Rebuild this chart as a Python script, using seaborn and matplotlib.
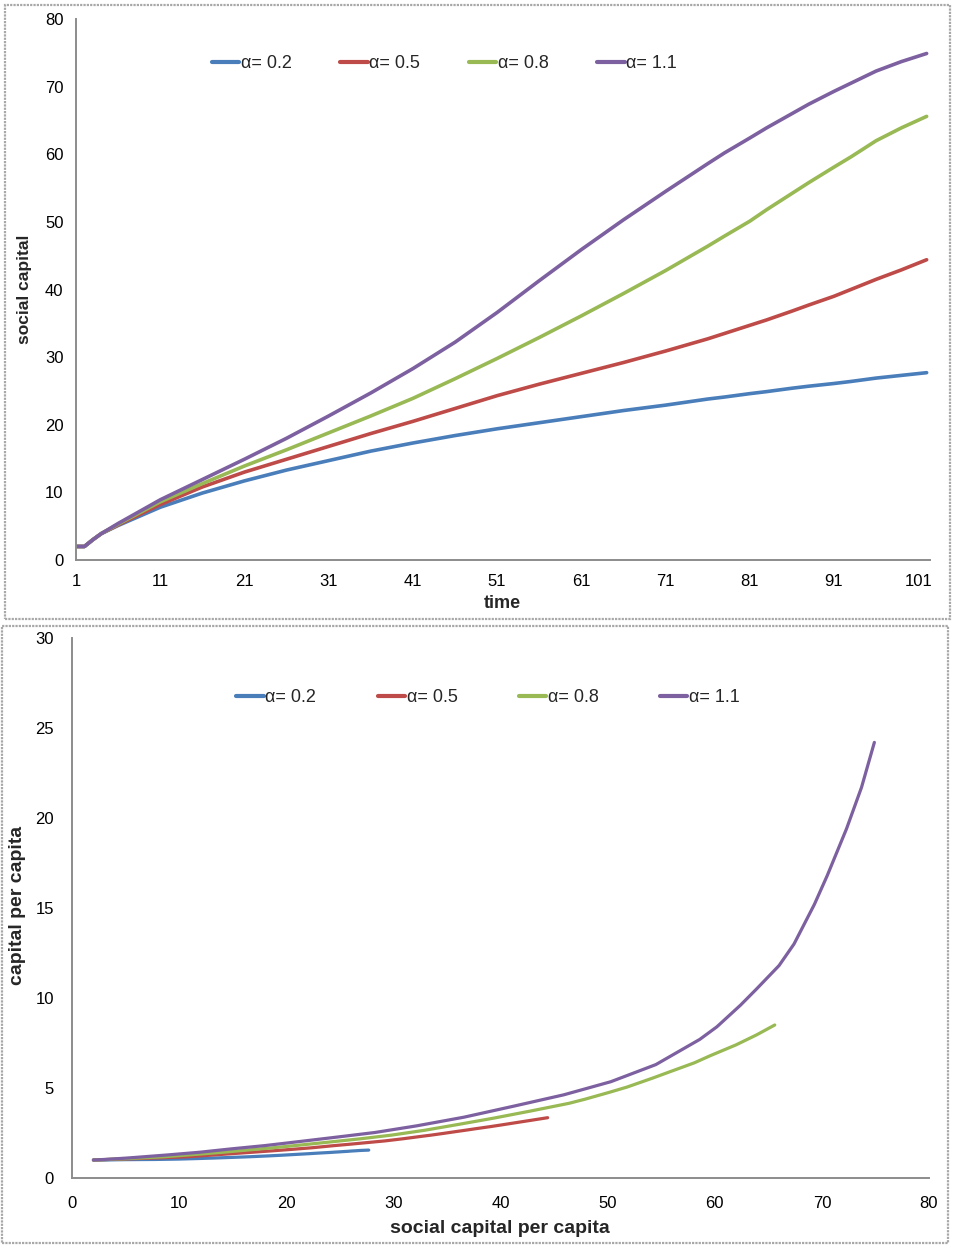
import numpy as np
import pandas as pd
import matplotlib
matplotlib.use('Agg')
import matplotlib.pyplot as plt
from matplotlib.lines import Line2D
from matplotlib.patches import Rectangle
import seaborn as sns

# ─── Data ────────────────────────────────────────────────
time = [1, 2, 3, 4, 6, 11, 16, 21, 26, 31, 36, 41, 46, 51, 56, 61, 66, 71,
        76, 78, 81, 83, 86, 88, 91, 93, 96, 99, 102]

alphas = ['α= 0.2', 'α= 0.5', 'α= 0.8', 'α= 1.1']
colors = ['#4a7ebb', '#be4b48', '#98b954', '#7d60a0']

# social capital over time (top panel, also x of bottom panel)
soc_02 = [2.0, 2.0, 3.0, 3.9, 5.1, 7.8, 9.9, 11.7, 13.3, 14.7, 16.1, 17.3, 18.4, 19.4,
          20.3, 21.2, 22.1, 22.9, 23.8, 24.1, 24.6, 24.9, 25.4, 25.7, 26.1, 26.4, 26.9, 27.3, 27.7]
soc_05 = [2.0, 2.0, 3.0, 3.9, 5.2, 8.2, 10.8, 13.0, 14.9, 16.8, 18.7, 20.5, 22.4, 24.3,
          26.0, 27.6, 29.2, 30.9, 32.7, 33.5, 34.7, 35.5, 36.8, 37.7, 39.0, 40.0, 41.5, 42.9, 44.4]
soc_08 = [2.0, 2.0, 3.0, 3.9, 5.3, 8.6, 11.3, 13.9, 16.3, 18.8, 21.3, 23.9, 26.8, 29.8,
          32.9, 36.1, 39.4, 42.8, 46.4, 47.9, 50.1, 51.8, 54.2, 55.8, 58.1, 59.6, 62.0, 63.9, 65.6]
soc_11 = [2.0, 2.0, 3.0, 3.9, 5.4, 8.9, 11.9, 14.9, 18.0, 21.3, 24.7, 28.3, 32.2, 36.6,
          41.3, 45.9, 50.3, 54.5, 58.6, 60.2, 62.4, 63.9, 66.0, 67.4, 69.3, 70.5, 72.3, 73.7, 74.9]

# capital per capita at the same times (bottom panel y)
cap_02 = [1.0, 1.0, 1.0, 1.01, 1.02, 1.03, 1.05, 1.08, 1.11, 1.14, 1.17, 1.20, 1.23, 1.26,
          1.29, 1.32, 1.35, 1.38, 1.41, 1.42, 1.44, 1.45, 1.47, 1.48, 1.50, 1.51, 1.53, 1.54, 1.55]
cap_05 = [1.0, 1.0, 1.02, 1.04, 1.06, 1.12, 1.18, 1.27, 1.35, 1.43, 1.51, 1.59, 1.68, 1.79,
          1.88, 1.97, 2.06, 2.18, 2.32, 2.38, 2.48, 2.55, 2.66, 2.74, 2.85, 2.94, 3.08, 3.21, 3.35]
cap_08 = [1.0, 1.0, 1.02, 1.05, 1.08, 1.18, 1.30, 1.42, 1.55, 1.68, 1.83, 1.99, 2.17, 2.38,
          2.65, 2.98, 3.33, 3.72, 4.15, 4.38, 4.75, 5.05, 5.55, 5.90, 6.40, 6.80, 7.40, 7.95, 8.50]
cap_11 = [1.0, 1.0, 1.03, 1.06, 1.12, 1.28, 1.43, 1.62, 1.80, 2.03, 2.27, 2.53, 2.90, 3.38,
          4.00, 4.62, 5.35, 6.30, 7.70, 8.40, 9.60, 10.5, 11.8, 13.0, 15.2, 16.8, 19.4, 21.7, 24.2]

soc_all = [soc_02, soc_05, soc_08, soc_11]
cap_all = [cap_02, cap_05, cap_08, cap_11]

df = pd.concat([
    pd.DataFrame({'time': time, 'social': s, 'capital': c, 'alpha': a})
    for a, s, c in zip(alphas, soc_all, cap_all)
], ignore_index=True)

# ─── Style ───────────────────────────────────────────────
sns.set_theme(style='white')
plt.rcParams['font.family'] = ['Liberation Sans', 'DejaVu Sans']
palette = dict(zip(alphas, colors))
spine_c = '#8c8c8c'

fig = plt.figure(figsize=(9.56, 12.48), dpi=100)

# panel frames (Excel chart areas)
for rect in [(5 / 956, 1 - 619 / 1248, 945 / 956, 614 / 1248),
             (2 / 956, 1 - 1243 / 1248, 946 / 956, 617 / 1248)]:
    fig.patches.append(Rectangle(rect[:2], rect[2], rect[3], transform=fig.transFigure,
                                 fill=False, edgecolor='#a8a8a8', lw=1.6, ls=(0, (1, 0.5))))


def style_axes(ax):
    for side in ['top', 'right']:
        ax.spines[side].set_visible(False)
    for side in ['left', 'bottom']:
        ax.spines[side].set_color(spine_c)
        ax.spines[side].set_linewidth(1.4)
    ax.tick_params(axis='both', colors=spine_c, labelcolor='black', labelsize=12, width=1.2)


# ─── Top: social capital vs time ─────────────────────────
ax1 = fig.add_axes([76 / 956, 1 - 560 / 1248, 854 / 956, 541 / 1248])
sns.lineplot(data=df, x='time', y='social', hue='alpha', palette=palette,
             estimator=None, sort=False, lw=2.6, legend=False, ax=ax1)
ax1.set_xlim(1, 102.4)
ax1.set_ylim(0, 80)
ax1.set_xticks(range(1, 102, 10))
ax1.set_yticks(range(0, 81, 10))
style_axes(ax1)
ax1.tick_params(axis='x', direction='in', length=4, pad=10)
ax1.tick_params(axis='y', direction='out', length=5, pad=4)
ax1.set_xlabel('time', fontsize=13, fontweight='bold', va='center')
ax1.set_ylabel('social capital', fontsize=12.5, fontweight='bold', va='center')
ax1.xaxis.set_label_coords(0.499, -0.081)
ax1.yaxis.set_label_coords(-0.06, 0.50)

# ─── Bottom: capital per capita vs social capital ───────
ax2 = fig.add_axes([72 / 956, 1 - 1178 / 1248, 857 / 956, 540 / 1248])
sns.lineplot(data=df, x='social', y='capital', hue='alpha', palette=palette,
             estimator=None, sort=False, lw=2.3, legend=False, ax=ax2)
ax2.set_xlim(0, 80)
ax2.set_ylim(0, 30)
ax2.set_xticks(range(0, 81, 10))
ax2.set_yticks(range(0, 31, 5))
style_axes(ax2)
ax2.tick_params(axis='x', direction='out', length=4, pad=9)
ax2.tick_params(axis='y', direction='out', length=5, pad=8)
ax2.set_xlabel('social capital per capita', fontsize=14, fontweight='bold', va='center')
ax2.set_ylabel('capital per capita', fontsize=14, fontweight='bold', va='center')
ax2.xaxis.set_label_coords(0.4994, -0.0926)
ax2.yaxis.set_label_coords(-0.064, 0.5056)

# ─── Legends ─────────────────────────────────────────────
handles = [Line2D([], [], color=c, lw=3) for c in colors]
fig.legend(handles, alphas, loc='center', bbox_to_anchor=(0.465, 1 - 64 / 1248),
           ncol=4, frameon=False, fontsize=13, handlelength=1.5,
           handletextpad=0.1, columnspacing=2.7)
fig.legend(handles, alphas, loc='center', bbox_to_anchor=(0.5105, 1 - 698 / 1248),
           ncol=4, frameon=False, fontsize=13, handlelength=1.5,
           handletextpad=0.1, columnspacing=3.4)

fig.savefig('out.png', dpi=100, facecolor='white')
